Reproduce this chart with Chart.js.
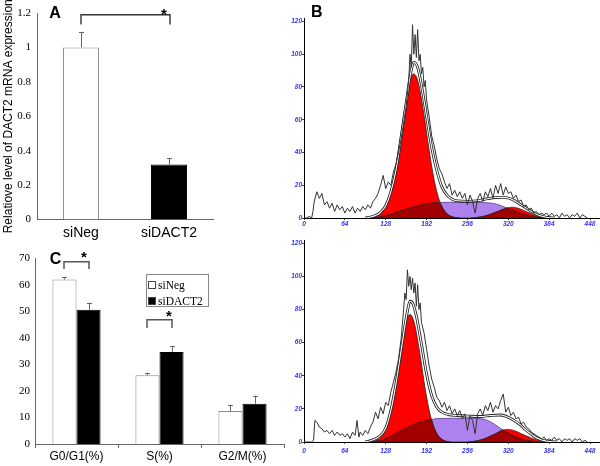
<!DOCTYPE html>
<html><head><meta charset="utf-8">
<script src="https://cdn.jsdelivr.net/npm/chart.js@4/dist/chart.umd.min.js"></script>
<style>
html,body{margin:0;padding:0;background:#fff;}
#wrap{position:relative;width:600px;height:466px;overflow:hidden;background:#fff;}
canvas{position:absolute;}
</style></head><body>
<div id="wrap">
<canvas id="cA" width="215" height="250" style="left:0;top:0"></canvas>
<canvas id="cC" width="290" height="221" style="left:0;top:245px"></canvas>
<canvas id="cB1" width="310" height="232" style="left:290px;top:0"></canvas>
<canvas id="cB2" width="310" height="231" style="left:290px;top:235px"></canvas>
</div>
<script>
// ---------- Panel A data ----------
const catA = ['siNeg', 'siDACT2'];
const meanA = [1.0, 0.32];
const errA = [0.09, 0.035];
const ticksA = [0, 0.2, 0.4, 0.6, 0.8, 1, 1.2];

// ---------- Panel C data ----------
const catC = ['G0/G1(%)', 'S(%)', 'G2/M(%)'];
const negC = [62.0, 25.9, 12.4];
const negErrC = [1.0, 0.9, 2.4];
const dactC = [50.6, 34.7, 15.2];
const dactErrC = [2.7, 2.1, 3.0];

// ---------- Panel B data (channel, count) ----------
const histTicksX = [0, 64, 128, 192, 256, 320, 384, 448];
const histTicksY = [0, 20, 40, 60, 80, 100, 120];

const topRaw = [[0,0],[4,0],[8,1],[12,0],[14,4],[16,10],[20,16],[24,12],[28,15],[32,8],[36,10],[40,6],[44,9],[48,4],[52,8],[56,5],[60,7],[64,3],[68,6],[72,4],[76,7],[80,3],[84,6],[88,4],[92,7],[96,5],[100,8],[104,6],[108,10],[112,12],[116,15],[120,20],[124,26],[128,18],[132,22],[136,20],[140,28],[144,33],[148,40],[152,48],[156,58],[160,68],[164,84],[166,100],[168,92],[170,118],[172,100],[174,112],[176,98],[178,115],[180,96],[182,100],[184,88],[186,92],[188,80],[190,84],[192,72],[196,62],[200,50],[204,44],[208,36],[212,30],[216,27],[220,22],[224,18],[228,21],[232,14],[236,17],[240,13],[244,16],[248,12],[252,15],[256,8],[260,14],[264,10],[268,3],[272,12],[276,15],[280,10],[284,16],[288,13],[292,18],[296,12],[300,20],[304,15],[308,21],[312,14],[316,19],[320,15],[324,16],[328,12],[332,14],[336,10],[340,11],[344,7],[348,8],[352,5],[356,6],[360,3],[364,4],[368,2],[372,3],[376,2],[380,3],[384,1],[388,3],[392,1],[396,2],[400,0],[404,3],[408,1],[412,2],[416,0],[420,2],[424,1],[428,3],[432,0],[436,2],[440,1],[444,0]];
const topFit = [[96,0],[104,0.6],[112,1.5],[120,3.5],[128,7.5],[136,16],[144,29],[152,49],[160,70],[166,86],[172,95],[178,92],[184,81],[192,62],[200,43],[208,29],[216,19],[224,14],[232,11.5],[240,10.5],[256,10.2],[272,10.5],[288,11.8],[300,12.5],[310,12.6],[320,12.2],[330,10.5],[340,8],[350,5.6],[358,3.6],[366,2],[374,0.9],[382,0.3],[392,0]];
const topG1 = [[104,0],[108,0.4],[116,1.4],[124,4.3],[132,10.7],[140,22.9],[148,41.3],[156,62.8],[164,80.9],[168,86.2],[172,88],[176,86.2],[180,80.9],[188,62.8],[196,41.3],[204,22.9],[212,10.7],[220,4.3],[228,1.4],[236,0.4],[244,0]];
const topS = [[108,0],[112,0.3],[128,1.5],[144,3.5],[160,5.5],[176,7.3],[192,8.7],[208,9.4],[224,9.6],[240,9.6],[256,9.6],[272,9.5],[288,9.3],[300,8.6],[310,7.3],[318,6.1],[326,5],[334,3.8],[342,2.7],[350,1.8],[358,1.1],[366,0.5],[374,0.1],[380,0]];
const topG2 = [[262,0],[270,0.3],[280,0.9],[290,2],[300,3.5],[310,5],[318,6.1],[326,6.6],[334,6.1],[342,5],[350,3.6],[358,2.3],[366,1.2],[374,0.6],[382,0.2],[390,0]];
const topOverlap = [[108,0],[112,0.3],[128,1.5],[144,3.5],[160,5.5],[176,7.3],[192,8.7],[208,9.4],[212,9.4],[216,7],[220,4.3],[228,1.4],[236,0.4],[244,0],[262,0],[270,0.3],[280,0.9],[290,2],[300,3.5],[310,5],[318,6.1],[326,5],[334,3.8],[342,2.7],[350,1.8],[358,1.1],[366,0.5],[374,0.1],[380,0]];

const botRaw = [[0,0],[4,0],[8,0],[12,0],[15,1],[17,13],[20,12],[24,9],[28,8],[32,6],[36,7],[40,5],[44,7],[48,4],[52,6],[56,4],[60,5],[64,3],[68,5],[72,2],[76,6],[80,4],[83,13],[86,3],[88,6],[92,4],[96,7],[100,5],[104,9],[108,12],[112,18],[116,14],[120,21],[124,17],[128,24],[132,22],[136,30],[140,36],[144,42],[148,50],[152,62],[156,80],[158,90],[160,86],[162,104],[164,94],[166,100],[168,92],[170,99],[172,90],[174,96],[176,82],[178,95],[180,80],[182,84],[184,72],[188,66],[192,56],[196,46],[200,38],[204,33],[208,27],[212,25],[216,21],[220,24],[224,19],[228,22],[232,17],[236,20],[240,16],[244,19],[248,14],[252,17],[256,7],[260,16],[264,13],[268,5],[272,17],[276,20],[280,16],[284,22],[288,19],[292,24],[296,18],[300,22],[304,20],[308,25],[312,29],[316,18],[320,21],[324,16],[328,18],[332,14],[336,15],[340,11],[344,12],[348,9],[352,8],[356,6],[360,5],[364,4],[368,3],[372,2],[376,3],[380,1],[384,2],[388,1],[392,3],[396,1],[400,2],[404,0],[408,2],[412,1],[416,2],[420,0],[424,2],[428,1],[432,2],[436,0],[440,1],[444,0]];
const botFit = [[96,0],[104,0.8],[112,2],[120,4],[128,8.5],[136,19],[144,35],[152,55],[158,70],[162,79],[166,85],[170,84],[176,76],[184,59],[192,41],[200,28],[208,21],[216,18],[226,16.6],[240,16],[260,15.6],[276,15.4],[292,16],[307,16.3],[316,15.6],[323,14.3],[331,12.5],[339,10.3],[346,7.7],[354,5.3],[362,3],[370,1.5],[378,0.7],[386,0.3],[396,0]];
const botG1 = [[102,0],[110,0.5],[118,2.2],[126,6.5],[134,15.9],[142,31.6],[150,52],[158,69.9],[162,75.2],[166,77],[170,75.2],[174,69.9],[182,52],[190,31.6],[198,15.9],[206,6.5],[214,2.2],[222,0.5],[230,0]];
const botS = [[108,0],[120,1],[136,3.5],[152,7],[168,10],[184,12.3],[198,13.5],[210,14.2],[230,14.3],[250,14.3],[270,14.2],[282,13.8],[292,12.2],[300,10.3],[308,8.2],[316,6.3],[324,4.6],[332,3.2],[340,2],[350,1],[360,0.4],[370,0]];
const botG2 = [[256,0],[264,0.3],[272,0.8],[280,1.6],[290,3.2],[300,5],[308,6.6],[316,7.6],[324,7.4],[332,6.5],[340,5.1],[348,3.7],[356,2.4],[364,1.4],[372,0.7],[380,0.3],[390,0]];
const botOverlap = [[108,0],[120,1],[136,3.5],[152,7],[168,10],[184,12.3],[194,13.2],[198,13.5],[200,13],[202,10.4],[206,6.5],[214,2.2],[222,0.5],[230,0],[256,0],[264,0.3],[272,0.8],[280,1.6],[290,3.2],[300,5],[306,6.2],[310,7],[316,6.3],[324,4.6],[332,3.2],[340,2],[350,1],[360,0.4],[370,0]];

// ---------- common ----------
const SANS = "'Liberation Sans', Arial, sans-serif";
const SERIF = "'Liberation Serif', 'Times New Roman', serif";
Chart.defaults.font.family = SANS;
Chart.defaults.color = '#000';

const errorBars = {
  id: 'errorBars',
  afterDatasetsDraw(chart) {
    const ctx = chart.ctx, ys = chart.scales.y;
    chart.data.datasets.forEach((ds, di) => {
      if (!ds.errors) return;
      const meta = chart.getDatasetMeta(di);
      meta.data.forEach((bar, i) => {
        const v = ds.data[i], e = ds.errors[i];
        const yT = ys.getPixelForValue(v + e), yB = ys.getPixelForValue(v);
        const x = Math.round(bar.x) + 0.5;
        ctx.save();
        ctx.strokeStyle = '#666'; ctx.lineWidth = 1;
        ctx.beginPath();
        ctx.moveTo(x, yB); ctx.lineTo(x, yT);
        ctx.moveTo(x - 2.5, Math.round(yT) + 0.5); ctx.lineTo(x + 2.5, Math.round(yT) + 0.5);
        ctx.stroke();
        ctx.restore();
      });
    });
  }
};

function bracket(ctx, x1, x2, yTop, yDrop, color, lw) {
  ctx.save();
  ctx.strokeStyle = color; ctx.lineWidth = lw;
  ctx.beginPath();
  ctx.moveTo(x1, yDrop); ctx.lineTo(x1, yTop); ctx.lineTo(x2, yTop); ctx.lineTo(x2, yDrop);
  ctx.stroke();
  ctx.restore();
}
function star(ctx, x, yBase) {
  ctx.save();
  ctx.fillStyle = '#000';
  ctx.font = 'bold 15px ' + SANS;
  ctx.textAlign = 'center'; ctx.textBaseline = 'alphabetic';
  ctx.fillText('*', x, yBase);
  ctx.restore();
}
function panelLetter(ctx, t, x, y) {
  ctx.save();
  ctx.fillStyle = '#000';
  ctx.font = 'bold 16px ' + SANS;
  ctx.textAlign = 'center'; ctx.textBaseline = 'middle';
  ctx.fillText(t, x, y);
  ctx.restore();
}

// ---------- Panel A ----------
const annotA = {
  id: 'annotA',
  afterDraw(chart) {
    const ctx = chart.ctx, ys = chart.scales.y;
    const m = chart.getDatasetMeta(0).data;
    panelLetter(ctx, 'A', 55, 14);
    const x1 = Math.round(m[0].x), x2 = Math.round(m[1].x) + 1;
    bracket(ctx, x1, x2, ys.getPixelForValue(1.19), ys.getPixelForValue(1.133), '#333', 1.4);
    star(ctx, x2 - 6, 18.5);
  }
};
new Chart(document.getElementById('cA'), {
  type: 'bar',
  data: { labels: catA, datasets: [{
    data: meanA, errors: errA,
    backgroundColor: ['#ffffff', '#000000'], borderColor: ['#8a8a8a', '#000000'], borderWidth: 1,
    barPercentage: 0.41, categoryPercentage: 1
  }]},
  options: {
    responsive: false, animation: false, devicePixelRatio: 1,
    layout: { padding: { left: 0, right: 2, top: 13, bottom: 0 } },
    plugins: { legend: { display: false }, tooltip: { enabled: false } },
    scales: {
      x: {
        grid: { display: false, drawTicks: false },
        border: { color: '#666', width: 1 },
        ticks: { padding: 5, color: '#000', font: { size: 14, family: SANS } },
        afterFit(s) { s.height = 30.5; }
      },
      y: {
        min: 0, max: 1.2,
        afterBuildTicks(s) { s.ticks = ticksA.map(v => ({ value: v })); },
        grid: { display: false, drawTicks: false },
        border: { color: '#666', width: 1 },
        ticks: { padding: 6, color: '#000', font: { size: 11, family: SERIF },
                 callback: v => String(Math.round(v * 10) / 10) },
        title: { display: true, text: 'Relatiove level of DACT2 mRNA expression', color: '#000',
                 font: { size: 12, family: SANS }, padding: { top: 1, bottom: 0 } },
        afterFit(s) { s.width = 37; }
      }
    }
  },
  plugins: [errorBars, annotA]
});

// ---------- Panel C ----------
const annotC = {
  id: 'annotC',
  afterDraw(chart) {
    const ctx = chart.ctx, ys = chart.scales.y;
    const w = chart.getDatasetMeta(0).data, b = chart.getDatasetMeta(1).data;
    panelLetter(ctx, 'C', 55.5, 14.5);
    bracket(ctx, Math.round(w[0].x), Math.round(b[0].x), ys.getPixelForValue(68.7), ys.getPixelForValue(66), '#555', 1.5);
    star(ctx, Math.round(b[0].x) - 5, 17);
    bracket(ctx, Math.round(w[1].x), Math.round(b[1].x), ys.getPixelForValue(46.8), ys.getPixelForValue(43.7), '#555', 1.5);
    star(ctx, Math.round(b[1].x) - 3, 76);
    // legend
    ctx.save();
    ctx.strokeStyle = '#888'; ctx.lineWidth = 1;
    ctx.strokeRect(146.5, 29.5, 62, 32);
    const items = chart.data.datasets;
    [40, 56].forEach((yc, i) => {
      ctx.fillStyle = items[i].backgroundColor;
      ctx.fillRect(148.5, yc - 3.5, 7, 7);
      ctx.strokeStyle = '#444'; ctx.lineWidth = 1;
      ctx.strokeRect(148.5, yc - 3.5, 7, 7);
      ctx.fillStyle = '#000';
      ctx.font = '11.5px ' + SERIF;
      ctx.textAlign = 'left'; ctx.textBaseline = 'middle';
      ctx.fillText(items[i].label, 158, yc + 0.5);
    });
    ctx.restore();
  }
};
new Chart(document.getElementById('cC'), {
  type: 'bar',
  data: { labels: catC, datasets: [
    { label: 'siNeg', data: negC, errors: negErrC, backgroundColor: '#ffffff', borderColor: '#8a8a8a', borderWidth: 1,
      barPercentage: 1, categoryPercentage: 0.58 },
    { label: 'siDACT2', data: dactC, errors: dactErrC, backgroundColor: '#000000', borderColor: '#000000', borderWidth: 1,
      barPercentage: 1, categoryPercentage: 0.58 }
  ]},
  options: {
    responsive: false, animation: false, devicePixelRatio: 1,
    layout: { padding: { left: 0, right: 6, top: 13.3, bottom: 0 } },
    plugins: { legend: { display: false }, tooltip: { enabled: false } },
    scales: {
      x: {
        grid: { display: true, drawOnChartArea: false, drawTicks: true, tickLength: 4, color: '#666' },
        border: { color: '#666', width: 1 },
        ticks: { padding: 1, color: '#000', font: { size: 12, family: SANS } },
        afterFit(s) { s.height = 22; }
      },
      y: {
        min: 0, max: 70,
        ticks: { stepSize: 10, padding: 5, color: '#000', font: { size: 11, family: SERIF } },
        grid: { display: false, drawTicks: false },
        border: { color: '#666', width: 1 },
        afterFit(s) { s.width = 35; }
      }
    }
  },
  plugins: [errorBars, annotC]
});

// ---------- Panel B ----------
const pts = arr => arr.map(p => ({ x: p[0], y: p[1] }));
function histogram(id, raw, fit, g1, s, g2, ov, opt) {
  const smooth = { pointRadius: 0, cubicInterpolationMode: 'monotone' };
  const letter = {
    id: 'letter' + id,
    afterDraw(chart) { if (opt.letter) panelLetter(chart.ctx, opt.letter, 26.7, 12.5); }
  };
  new Chart(document.getElementById(id), {
    type: 'line',
    data: { datasets: [
      { data: pts(raw), borderColor: '#333333', borderWidth: 1, pointRadius: 0, tension: 0, fill: false },
      Object.assign({ data: pts(fit), borderColor: '#ffffff', borderWidth: 1.1, fill: false }, smooth),
      Object.assign({ data: pts(fit), borderColor: '#222222', borderWidth: 2.8, fill: false }, smooth),
      Object.assign({ data: pts(ov), borderColor: '#222', borderWidth: 0.7, backgroundColor: '#a00000', fill: 'origin' }, smooth),
      Object.assign({ data: pts(g2), borderColor: '#222', borderWidth: 0.7, backgroundColor: '#ff0000', fill: 'origin' }, smooth),
      Object.assign({ data: pts(g1), borderColor: '#222', borderWidth: 0.8, backgroundColor: '#ff0000', fill: 'origin' }, smooth),
      Object.assign({ data: pts(s), borderColor: '#4a2a80', borderWidth: 0.7, backgroundColor: '#ad82ee', fill: 'origin' }, smooth)
    ]},
    options: {
      responsive: false, animation: false, devicePixelRatio: 1,
      layout: { padding: { left: 0, right: 0, top: opt.top, bottom: 0 } },
      plugins: { legend: { display: false }, tooltip: { enabled: false } },
      scales: {
        x: {
          type: 'linear', min: 0, max: 463.6,
          afterBuildTicks(sc) { sc.ticks = histTicksX.map(v => ({ value: v })); },
          grid: { display: true, drawOnChartArea: false, drawTicks: true, tickLength: 2, color: '#444' },
          border: { color: '#000', width: 1 },
          ticks: { autoSkip: false, maxRotation: 0, padding: opt.xpad, color: '#3535ee',
                   font: { size: 6.5, style: 'italic', weight: 'bold', family: SANS } },
          afterFit(sc) { sc.height = opt.xh; }
        },
        y: {
          min: 0, max: 122,
          afterBuildTicks(sc) { sc.ticks = histTicksY.map(v => ({ value: v })); },
          grid: { display: true, drawOnChartArea: false, drawTicks: true, tickLength: 2, color: '#444' },
          border: { color: '#000', width: 1 },
          ticks: { padding: 0, color: '#3535ee', font: { size: 6.5, style: 'italic', weight: 'bold', family: SANS } },
          afterFit(sc) { sc.width = 14; }
        }
      }
    },
    plugins: [letter]
  });
}
histogram('cB1', topRaw, topFit, topG1, topS, topG2, topOverlap, { top: 18.2, xh: 14, xpad: 0, letter: 'B' });
histogram('cB2', botRaw, botFit, botG1, botS, botG2, botOverlap, { top: 5, xh: 24, xpad: 3, letter: null });
</script>
</body></html>
